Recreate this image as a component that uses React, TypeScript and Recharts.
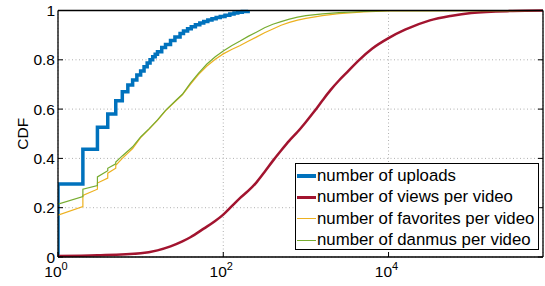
import React from "react";
import { LineChart, Line, XAxis, YAxis, CartesianGrid, Legend } from "recharts";

const FONT = "'Liberation Sans', Arial, sans-serif";

// series names and colours
const seriesNames = [
  "number of uploads",
  "number of views per video",
  "number of favorites per video",
  "number of danmus per video",
];
const seriesColors = ["#0072BD", "#A2142F", "#EDB120", "#77AC30"];

// uploads: stepped CDF
const uploadX = [1, 1, 2, 3, 4, 5, 6, 7, 8, 9, 10, 11, 12, 13, 14, 15, 16, 18, 20, 23, 26, 30, 33, 37, 41, 46, 52, 58, 65, 73, 82, 92, 105, 120, 135, 150, 170, 200];
const uploadCdf = [0, 0.296, 0.437, 0.526, 0.58, 0.634, 0.67, 0.698, 0.718, 0.738, 0.755, 0.772, 0.787, 0.8, 0.812, 0.823, 0.833, 0.85, 0.862, 0.878, 0.893, 0.907, 0.917, 0.926, 0.934, 0.942, 0.949, 0.955, 0.961, 0.967, 0.972, 0.976, 0.981, 0.986, 0.99, 0.993, 0.996, 1];

// views per video
const viewX = [1, 3, 10, 16, 23, 32, 40, 58, 79, 100, 126, 158, 200, 251, 316, 398, 501, 631, 794, 1000, 1259, 1585, 1995, 2512, 3162, 4266, 6310, 10000, 15849, 31623, 56234, 100000, 316228, 740000];
const viewCdf = [0.004, 0.007, 0.015, 0.027, 0.043, 0.063, 0.08, 0.115, 0.145, 0.172, 0.205, 0.238, 0.268, 0.302, 0.345, 0.39, 0.432, 0.472, 0.508, 0.548, 0.59, 0.635, 0.678, 0.716, 0.75, 0.795, 0.845, 0.888, 0.922, 0.96, 0.978, 0.99, 0.998, 1];

// favorites and danmus per video (shared x points)
const smallX = [1, 2, 2, 3, 3, 4, 4, 5, 5, 6, 8, 10, 12.6, 16, 20, 27, 32, 40, 50, 63, 80, 100, 126, 158, 200, 251, 316, 398, 501, 631, 794, 1000, 1585, 2512, 5012, 10000, 740000];
const favoriteCdf = [0.17, 0.205, 0.25, 0.275, 0.3, 0.32, 0.34, 0.36, 0.372, 0.4, 0.44, 0.484, 0.518, 0.554, 0.593, 0.635, 0.658, 0.7, 0.74, 0.774, 0.802, 0.824, 0.842, 0.857, 0.875, 0.892, 0.91, 0.925, 0.94, 0.952, 0.961, 0.968, 0.979, 0.987, 0.994, 0.998, 1];
const danmuCdf = [0.214, 0.245, 0.275, 0.29, 0.325, 0.35, 0.36, 0.378, 0.385, 0.41, 0.447, 0.487, 0.52, 0.556, 0.595, 0.637, 0.66, 0.705, 0.745, 0.782, 0.812, 0.836, 0.857, 0.875, 0.895, 0.912, 0.93, 0.944, 0.955, 0.965, 0.973, 0.979, 0.986, 0.991, 0.996, 0.999, 1];

const xTicks = [1, 100, 10000];
const yTicks = [0, 0.2, 0.4, 0.6, 0.8, 1];
const X_MAX = 740000;

const toPoints = (xs: number[], ys: number[]) => xs.map((x, i) => ({ x, y: ys[i] }));

const uploads = toPoints(uploadX, uploadCdf);
const views = toPoints(viewX, viewCdf);
const favorites = toPoints(smallX, favoriteCdf);
const danmus = toPoints(smallX, danmuCdf);

const legendWidths = [3.5, 2.5, 1.2, 1.5];

function BottomTick(props: any) {
  const { x, y, payload } = props;
  const exp = Math.round(Math.log10(payload.value));
  return (
    <g>
      <line x1={x} x2={x} y1={y} y2={y - 5} stroke="#000" />
      <text x={x - 2} y={y + 20} textAnchor="middle" fontFamily={FONT} fontSize={15.5} fill="#000">
        10
        <tspan dy={-7} fontSize={11}>
          {exp}
        </tspan>
      </text>
    </g>
  );
}

function TopTick(props: any) {
  const { x, y } = props;
  return <line x1={x} x2={x} y1={y} y2={y + 5} stroke="#000" />;
}

function LeftTick(props: any) {
  const { x, y, payload } = props;
  return (
    <g>
      <line x1={x} x2={x + 5} y1={y} y2={y} stroke="#000" />
      <text x={x - 3} y={y + 5.5} textAnchor="end" fontFamily={FONT} fontSize={15.5} fill="#000">
        {String(payload.value)}
      </text>
    </g>
  );
}

function RightTick(props: any) {
  const { x, y } = props;
  return <line x1={x - 5} x2={x} y1={y} y2={y} stroke="#000" />;
}

function renderLegend() {
  return (
    <div
      style={{
        boxSizing: "border-box",
        width: 244,
        height: 87,
        border: "1.3px solid #000",
        background: "#fff",
        paddingTop: 1,
        fontFamily: FONT,
        fontSize: 16.8,
        color: "#000",
      }}
    >
      {seriesNames.map((name, i) => (
        <div key={name} style={{ display: "flex", alignItems: "center", height: 21.5 }}>
          <span
            style={{
              display: "inline-block",
              marginLeft: 1,
              marginRight: 1,
              width: 19,
              height: legendWidths[i],
              background: seriesColors[i],
            }}
          />
          <span style={{ whiteSpace: "nowrap" }}>{name}</span>
        </div>
      ))}
    </div>
  );
}

export default function App() {
  return (
    <div style={{ position: "absolute", left: 0, top: 0, background: "#fff" }}>
      <LineChart width={545} height={286} margin={{ top: 0, right: 0, bottom: 0, left: 0 }}>
        <CartesianGrid stroke="#b0b0b0" strokeDasharray="1 2.5" />
        <XAxis
          dataKey="x"
          type="number"
          scale="log"
          domain={[1, X_MAX]}
          allowDataOverflow
          ticks={xTicks}
          height={29}
          tickSize={0}
          tickMargin={0}
          tickLine={false}
          axisLine={{ stroke: "#000", strokeWidth: 1.3 }}
          tick={<BottomTick />}
          interval={0}
        />
        <XAxis
          xAxisId="top"
          orientation="top"
          type="number"
          scale="log"
          domain={[1, X_MAX]}
          allowDataOverflow
          ticks={xTicks}
          height={10.5}
          tickSize={0}
          tickMargin={0}
          tickLine={false}
          axisLine={{ stroke: "#000", strokeWidth: 1.3 }}
          tick={<TopTick />}
          interval={0}
        />
        <YAxis
          type="number"
          domain={[0, 1]}
          ticks={yTicks}
          width={58}
          tickSize={0}
          tickMargin={0}
          tickLine={false}
          axisLine={{ stroke: "#000", strokeWidth: 1.3 }}
          tick={<LeftTick />}
          interval={0}
          label={({ viewBox }: any) => (
            <text
              x={22}
              y={viewBox.y + viewBox.height / 2}
              transform={`rotate(-90, 22, ${viewBox.y + viewBox.height / 2})`}
              textAnchor="middle"
              dominantBaseline="central"
              fontFamily={FONT}
              fontSize={15.5}
              fill="#000"
            >
              CDF
            </text>
          )}
        />
        <YAxis
          yAxisId="right"
          orientation="right"
          type="number"
          domain={[0, 1]}
          allowDataOverflow
          ticks={yTicks}
          width={2}
          tickSize={0}
          tickMargin={0}
          tickLine={false}
          axisLine={{ stroke: "#000", strokeWidth: 1.3 }}
          tick={<RightTick />}
          interval={0}
        />
        <Line
          data={uploads}
          dataKey="y"
          name={seriesNames[0]}
          type="stepAfter"
          stroke={seriesColors[0]}
          strokeWidth={3.5}
          dot={false}
          isAnimationActive={false}
        />
        <Line
          data={views}
          dataKey="y"
          name={seriesNames[1]}
          type="monotone"
          stroke={seriesColors[1]}
          strokeWidth={2.5}
          dot={false}
          isAnimationActive={false}
        />
        <Line
          data={favorites}
          dataKey="y"
          name={seriesNames[2]}
          type="linear"
          stroke={seriesColors[2]}
          strokeWidth={1.2}
          dot={false}
          isAnimationActive={false}
        />
        <Line
          data={danmus}
          dataKey="y"
          name={seriesNames[3]}
          type="linear"
          stroke={seriesColors[3]}
          strokeWidth={1.2}
          dot={false}
          isAnimationActive={false}
        />
        <Legend
          layout="vertical"
          align="center"
          verticalAlign="middle"
          content={renderLegend}
          wrapperStyle={{ left: 295, top: 163, width: 244, height: 87 }}
        />
      </LineChart>
    </div>
  );
}
